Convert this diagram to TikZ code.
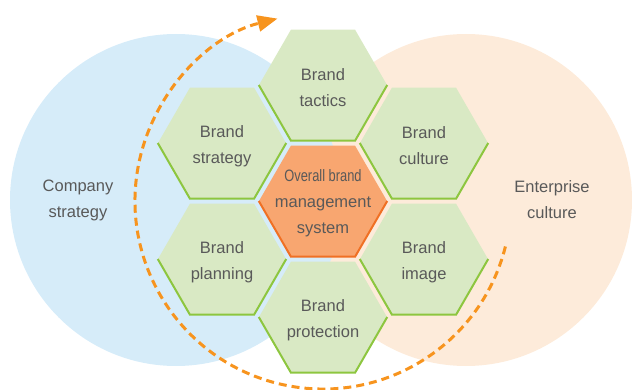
\documentclass[tikz,border=0pt]{standalone}
\usepackage{graphicx}
\usepackage{fontspec}
\setmainfont{Liberation Sans}
\usetikzlibrary{shapes.geometric,arrows.meta}
\definecolor{skyfill}{RGB}{214,236,249}
\definecolor{peachfill}{RGB}{253,235,218}
\definecolor{leaffill}{RGB}{217,233,196}
\definecolor{leafedge}{RGB}{141,198,63}
\definecolor{corefill}{RGB}{248,166,112}
\definecolor{coreedge}{RGB}{240,112,36}
\definecolor{flow}{RGB}{247,148,30}
\definecolor{inkgray}{RGB}{89,89,89}

\begin{document}
\begin{tikzpicture}[x=1pt, y=1pt,
        disc/.style={circle, minimum size=332pt, inner sep=0pt, draw=none},
        caption/.style={text=inkgray, align=center,
          font=\fontsize{16.5}{26}\selectfont},
        hexcell/.style={regular polygon, regular polygon sides=6,
          minimum size=128pt, inner sep=0pt, fill=leaffill,
          label={[caption, yshift=-3pt]center:#1}},
        rim/.style={draw=leafedge, line width=2pt, line join=miter},
        flowline/.style={draw=flow, line width=3pt,
          dash pattern=on 8pt off 5pt},
        >={Triangle[length=20pt,width=16pt]}]
     \useasboundingbox (0,0) rectangle (632,389);
     \node (culture) at (466,189) [disc, fill=peachfill] {};
     \node (company) at (176,189) [disc, fill=skyfill] {};
     \node (companytext) at (78,189) [caption] {Company\\strategy};
     \node (culturetext) at (552,189) [caption] {Enterprise\\culture};
     \node (core) at (323,188) [hexcell={}, fill=corefill] {};
     \node (coretext) at ([yshift=-2pt]core.center) [caption]
        {\scalebox{0.78}[1]{Overall brand}\\management\\system};
     \node (tactics) at (323,304) [hexcell={Brand\\tactics}] {};
     \node (strategy) at (222,246) [hexcell={Brand\\strategy}] {};
     \node (brandculture) at (424,246) [hexcell={Brand\\culture}] {};
     \node (planning) at (222,130) [hexcell={Brand\\planning}] {};
     \node (image) at (424,130) [hexcell={Brand\\image}] {};
     \node (protection) at (323,72) [hexcell={Brand\\protection}] {};
      \draw[rim, draw=coreedge] (core.west) -- (core.-120) -- (core.-60) -- (core.east);
      \draw[rim] (tactics.west) -- (tactics.-120) -- (tactics.-60) -- (tactics.east);
      \draw[rim] (strategy.west) -- (strategy.-120) -- (strategy.-60) -- (strategy.east);
      \draw[rim] (brandculture.west) -- (brandculture.-120) -- (brandculture.-60) -- (brandculture.east);
      \draw[rim] (planning.west) -- (planning.-120) -- (planning.-60) -- (planning.east);
      \draw[rim] (image.west) -- (image.-120) -- (image.-60) -- (image.east);
      \draw[rim] (protection.west) -- (protection.-120) -- (protection.-60) -- (protection.east);
      \draw[flowline, ->] ([shift={(-14:188)}]core.center)
        arc[start angle=-14, end angle=-256, radius=188];
    \end{tikzpicture}
\end{document}
